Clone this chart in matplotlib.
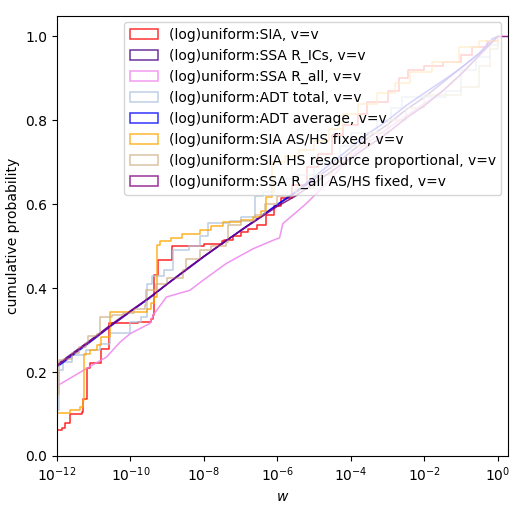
import numpy as np
import matplotlib
matplotlib.use('Agg')
import matplotlib.pyplot as plt
from matplotlib.patches import Patch

# cumulative curves: x is log10(w), y is cumulative probability
labels = ['(log)uniform:SIA, v=v',
          '(log)uniform:SSA R_ICs, v=v',
          '(log)uniform:SSA R_all, v=v',
          '(log)uniform:ADT total, v=v',
          '(log)uniform:ADT average, v=v',
          '(log)uniform:SIA AS/HS fixed, v=v',
          '(log)uniform:SIA HS resource proportional, v=v',
          '(log)uniform:SSA R_all AS/HS fixed, v=v']
colors = ['red', 'indigo', 'violet', 'lightsteelblue', 'blue', 'orange', 'tan', 'purple']

sia_x = [-12.0, -11.87, -11.78, -11.65, -11.33, -11.30, -11.18, -11.10, -10.80, -10.58, -9.80, -9.45,
         -9.38, -9.35, -9.25, -8.88, -8.0, -7.50, -7.45, -7.2, -7.0, -6.8, -6.55, -6.3, -6.1, -5.9,
         -5.6, -5.2, -4.9, -4.5, -4.2, -3.8, -3.55, -3.0, -2.7, -2.45, -2.0, -1.5, -1.0, -0.7, -0.3, 0.0]
sia_y = [0.062, 0.066, 0.078, 0.100, 0.105, 0.135, 0.210, 0.222, 0.255, 0.316, 0.320, 0.326,
         0.336, 0.431, 0.467, 0.500, 0.505, 0.512, 0.515, 0.525, 0.533, 0.540, 0.550, 0.575, 0.595, 0.615,
         0.645, 0.690, 0.720, 0.765, 0.790, 0.815, 0.845, 0.870, 0.900, 0.920, 0.930, 0.940, 0.955, 0.975, 0.990, 1.0]

ssa_ics_x = [-12.0, -11.5, -11.0, -10.5, -10.0, -9.5, -9.0, -8.5, -8.0, -7.5, -7.0, -6.5, -6.0,
             -5.5, -5.0, -4.5, -4.0, -3.5, -3.0, -2.5, -2.0, -1.5, -1.0, -0.5, 0.0]
ssa_ics_y = [0.218, 0.250, 0.282, 0.315, 0.346, 0.376, 0.410, 0.444, 0.476, 0.506, 0.538, 0.568, 0.598,
             0.628, 0.660, 0.690, 0.725, 0.760, 0.790, 0.825, 0.855, 0.890, 0.925, 0.960, 1.0]

ssa_all_x = [-12.0, -11.65, -11.19, -10.65, -10.3, -10.0, -9.47, -9.38, -9.02, -8.38, -8.02, -7.39,
             -6.66, -6.12, -5.94, -5.85, -5.5, -5.21, -4.85, -4.5, -4.0, -3.5, -3.0, -2.5, -2.0,
             -1.5, -1.0, -0.5, 0.0]
ssa_all_y = [0.167, 0.185, 0.209, 0.236, 0.270, 0.292, 0.316, 0.336, 0.379, 0.395, 0.419, 0.459,
             0.494, 0.514, 0.520, 0.554, 0.580, 0.602, 0.633, 0.665, 0.715, 0.750, 0.780, 0.810, 0.840,
             0.870, 0.910, 0.955, 1.0]

adt_tot_x = [-12.0, -11.95, -11.85, -11.6, -11.2, -10.83, -10.56, -10.0, -9.7, -9.56, -9.4, -9.1,
             -8.84, -8.4, -8.11, -7.9, -7.3, -7.0, -6.62, -6.4, -6.1, -5.5, -5.0, -4.3, -4.0, -3.3,
             -2.9, -2.6, -1.4, -1.0, -0.6, -0.2, 0.0]
adt_tot_y = [0.110, 0.205, 0.225, 0.240, 0.252, 0.268, 0.294, 0.320, 0.331, 0.410, 0.430, 0.443,
             0.490, 0.500, 0.525, 0.555, 0.560, 0.570, 0.620, 0.630, 0.660, 0.670, 0.700, 0.740, 0.770, 0.800,
             0.830, 0.855, 0.870, 0.920, 0.950, 0.980, 1.0]

adt_avg_x = [-12.0, -11.5, -11.0, -10.5, -10.0, -9.5, -9.0, -8.5, -8.0, -7.5, -7.0, -6.5, -6.0,
             -5.5, -5.0, -4.5, -4.0, -3.5, -3.0, -2.5, -2.0, -1.4, -1.0, -0.5, -0.14, 0.0]
adt_avg_y = [0.212, 0.245, 0.278, 0.312, 0.344, 0.375, 0.410, 0.442, 0.475, 0.507, 0.537, 0.568, 0.600,
             0.630, 0.665, 0.700, 0.735, 0.770, 0.800, 0.835, 0.865, 0.900, 0.925, 0.960, 0.995, 1.0]

sia_fix_x = [-12.0, -11.65, -11.38, -11.30, -11.27, -11.1, -10.92, -10.80, -10.56, -9.56, -9.45, -9.35,
             -9.29, -9.2, -8.9, -8.6, -8.11, -7.8, -7.48, -7.0, -6.66, -6.45, -6.32, -6.15, -5.8, -5.4,
             -5.0, -4.6, -4.2, -3.8, -3.3, -2.8, -2.4, -1.8, -1.05, -0.5, 0.0]
sia_fix_y = [0.102, 0.110, 0.117, 0.133, 0.244, 0.252, 0.265, 0.284, 0.344, 0.350, 0.365, 0.380,
             0.502, 0.512, 0.520, 0.530, 0.538, 0.548, 0.558, 0.563, 0.570, 0.585, 0.617, 0.700, 0.715, 0.730,
             0.750, 0.780, 0.815, 0.840, 0.865, 0.890, 0.915, 0.940, 0.975, 0.990, 1.0]

sia_hs_x = [-12.0, -11.95, -11.8, -11.6, -11.4, -11.2, -11.15, -10.9, -10.83, -10.5, -10.2, -9.9, -9.6,
            -9.58, -9.3, -9.0, -8.56, -8.5, -8.1, -7.8, -7.39, -7.35, -7.0, -6.6, -6.35, -6.0, -5.5,
            -5.0, -4.5, -4.0, -3.5, -3.0, -2.5, -2.0, -1.0, -0.5, -0.2, 0.0]
sia_hs_y = [0.148, 0.228, 0.232, 0.245, 0.260, 0.270, 0.285, 0.290, 0.332, 0.335, 0.340, 0.350, 0.360,
            0.395, 0.410, 0.425, 0.443, 0.470, 0.490, 0.500, 0.510, 0.550, 0.560, 0.575, 0.600, 0.620, 0.640,
            0.670, 0.700, 0.740, 0.770, 0.800, 0.830, 0.860, 0.880, 0.930, 0.970, 1.0]

ssa_fix_x = [-12.0, -11.5, -11.0, -10.5, -10.0, -9.5, -9.0, -8.5, -8.0, -7.5, -7.0, -6.5, -6.0,
             -5.5, -5.0, -4.5, -4.0, -3.5, -3.0, -2.5, -2.0, -1.5, -1.0, -0.5, 0.0, 0.3]
ssa_fix_y = [0.215, 0.248, 0.280, 0.313, 0.345, 0.377, 0.410, 0.443, 0.476, 0.507, 0.537, 0.566, 0.595,
             0.620, 0.650, 0.680, 0.710, 0.740, 0.770, 0.805, 0.835, 0.870, 0.910, 0.955, 1.0, 1.0]

series_x = [sia_x, ssa_ics_x, ssa_all_x, adt_tot_x, adt_avg_x, sia_fix_x, sia_hs_x, ssa_fix_x]
series_y = [sia_y, ssa_ics_y, ssa_all_y, adt_tot_y, adt_avg_y, sia_fix_y, sia_hs_y, ssa_fix_y]
# the jumpy ones are drawn as steps, the smooth ones as lines
stepped = [True, False, False, True, False, True, True, False]

fig = plt.figure(figsize=(5.23, 5.17), dpi=100)
ax = fig.add_axes([0.109, 0.118, 0.863, 0.852])

for xs, ys, c, st in zip(series_x, series_y, colors, stepped):
    w = 10.0 ** np.array(xs)
    ds = 'steps-post' if st else 'default'
    ax.plot(w, ys, color=c, lw=1.1, alpha=0.85, drawstyle=ds)

ax.set_xscale('log')
ax.set_xlim(1e-12, 1.95)
ax.set_ylim(0, 1.05)
ax.set_xlabel('$w$')
ax.set_ylabel('cumulative probability')

handles = [Patch(facecolor='none', edgecolor=c, lw=1.1, alpha=0.8) for c in colors]
ax.legend(handles, labels, loc='upper right')

fig.savefig('out.png', dpi=100)
